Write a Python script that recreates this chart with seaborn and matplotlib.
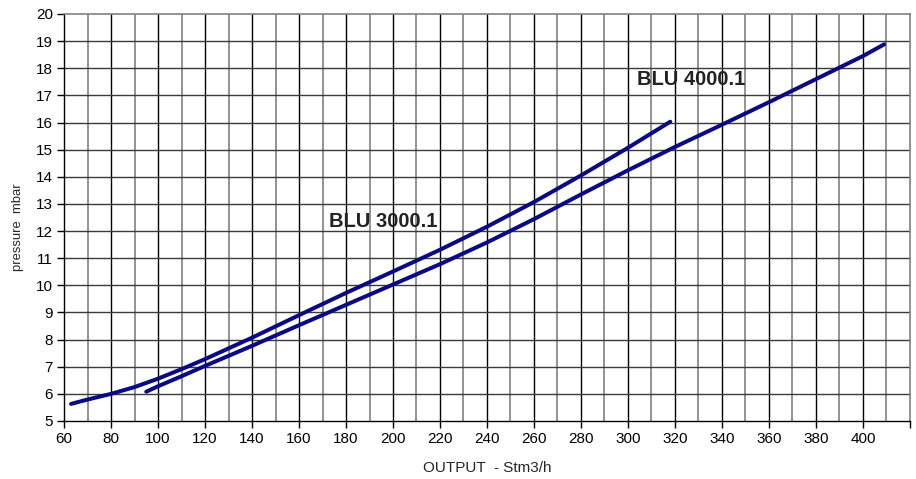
import seaborn as sns
import pandas as pd
import matplotlib.pyplot as plt
from matplotlib.ticker import FixedLocator

# curve values
output_a = [63, 70, 80, 90, 100, 110, 120, 140, 160, 180, 200, 220, 240, 260, 280, 300, 318]
pressure_a = [5.63, 5.79, 6.0, 6.25, 6.56, 6.91, 7.28, 8.07, 8.9, 9.72, 10.51, 11.31, 12.16, 13.07, 14.05, 15.07, 16.03]

output_b = [95, 100, 110, 120, 140, 160, 180, 200, 220, 240, 260, 280, 300, 320, 340, 360, 380, 400, 409]
pressure_b = [6.08, 6.28, 6.65, 7.03, 7.77, 8.53, 9.28, 10.03, 10.78, 11.58, 12.44, 13.35, 14.24, 15.1, 15.92, 16.75, 17.6, 18.45, 18.88]

x_ticks = list(range(60, 421, 20))
x_tick_labels = [str(v) for v in range(60, 401, 20)] + ['']
y_ticks = list(range(5, 21))

df = pd.concat([
    pd.DataFrame({'output': output_a, 'pressure': pressure_a, 'model': 'a'}),
    pd.DataFrame({'output': output_b, 'pressure': pressure_b, 'model': 'b'}),
])

sns.set_style('white')
plt.rcParams['font.family'] = ['Liberation Sans', 'DejaVu Sans']

fig = plt.figure(figsize=(9.16, 4.79), dpi=100)
ax = fig.add_axes([0.0699, 0.1211, 0.9235, 0.8497])

# grid: black at labelled ticks, grey in between
for v in range(70, 420, 20):
    ax.axvline(v, color='#808080', lw=1.2, zorder=1)
for v in range(80, 420, 20):
    ax.axvline(v, color='black', lw=1.0, zorder=1)
for v in range(6, 20):
    ax.axhline(v, color='#3a3a3a', lw=1.0, zorder=1)

sns.lineplot(data=df, x='output', y='pressure', units='model', estimator=None,
             color='#0a0a85', lw=2.9, ax=ax, zorder=3, sort=False)

ax.text(172.8, 12.35, 'BLU 3000.1', fontsize=14.5, fontweight='bold', color='#222222',
        va='center', ha='left', zorder=4)
ax.text(304, 17.6, 'BLU 4000.1', fontsize=14.5, fontweight='bold', color='#222222',
        va='center', ha='left', zorder=4)

ax.set_xlim(60, 420)
ax.set_ylim(5, 20)
ax.xaxis.set_major_locator(FixedLocator(x_ticks))
ax.set_xticklabels(x_tick_labels)
ax.yaxis.set_major_locator(FixedLocator(y_ticks))
ax.tick_params(axis='both', direction='out', length=5, width=1, color='black',
               labelsize=11, labelcolor='black', bottom=True, left=True, pad=3)

ax.set_xlabel('OUTPUT  - Stm3/h', fontsize=11, labelpad=11)
ax.set_ylabel('pressure  mbar', fontsize=9.4)
ax.yaxis.set_label_coords(-0.047, 0.477)

for side in ['left', 'bottom']:
    ax.spines[side].set_color('black')
    ax.spines[side].set_linewidth(1.0)
for side in ['top', 'right']:
    ax.spines[side].set_color('#808080')
    ax.spines[side].set_linewidth(1.2)

fig.savefig('out.png', dpi=100)
